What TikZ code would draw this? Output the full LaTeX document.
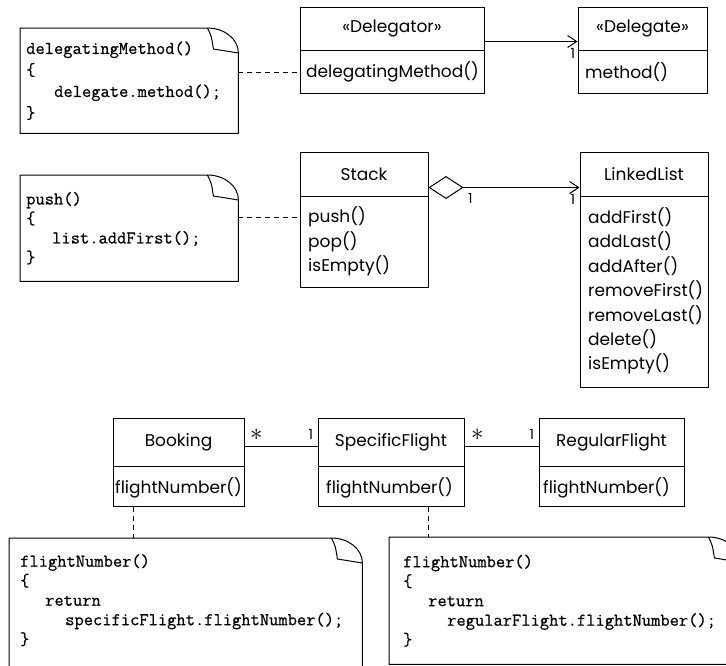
\documentclass[tikz,border=0pt]{standalone}
\usepackage{fontspec}
\setmainfont{Poppins}
\newfontfamily\codefont[FakeBold=0.6]{Latin Modern Mono}
\usetikzlibrary{arrows.meta,positioning}

\tikzset{
  classhead/.style={draw, line width=1pt, inner sep=0pt, font=\fontsize{17}{20}\selectfont},
  classbody/.style={draw, line width=1pt, inner sep=0pt},
  method/.style={anchor=west, inner sep=0pt, font=\fontsize{17}{20}\selectfont},
  mult/.style={inner sep=1pt, font=\fontsize{14}{14}\selectfont},
  notebox/.style={anchor=north west, inner ysep=0pt, align=left, font=\fontsize{18}{19.5}\selectfont\codefont},
  notefr/.style={line width=1pt, line join=round},
  notelink/.style={line width=1pt, dash pattern=on 5pt off 4pt},
  assoc/.style={line width=1pt},
}

\begin{document}
\begin{tikzpicture}[x=1pt, y=-1pt]
  \useasboundingbox (0,0) rectangle (726,665);
  \clip (0,0) rectangle (726,665);
  % Delegator -> Delegate
  \node[classhead, minimum width=184pt, minimum height=43pt] (delT) at (392,28.5) {«Delegator»};
  \node[classbody, minimum width=184pt, minimum height=43pt, below=-1pt of delT] (delB) {};
  \node[method] (delM) at (306,72) {delegatingMethod()};
  \node[classhead, minimum width=129pt, minimum height=43pt] (dlgT) at (642.5,28.5) {«Delegate»};
  \node[classbody, minimum width=129pt, minimum height=43pt, below=-1pt of dlgT] (dlgB) {};
  \node[method] (dlgM) at (585,72) {method()};
  \draw[assoc, -{Straight Barb[length=9pt, width=12pt]}] ([yshift=9pt]delT.south east) -- ([yshift=9pt]dlgT.south west)
    node[mult, at end, below left=5pt and 1pt] {1};

  % Stack <>-> LinkedList
  \node[classhead, minimum width=128pt, minimum height=44pt] (stkT) at (364,174) {Stack};
  \node[classbody, minimum width=128pt, minimum height=91pt, below=-1pt of stkT] (stkB) {};
  \foreach \m [count=\i] in {push(),pop(),isEmpty()}
    \node[method] (stk\i) at (308,{192.5+24.5*\i}) {\m};
  \node[classhead, minimum width=128pt, minimum height=44pt] (llT) at (644,174) {LinkedList};
  \node[classbody, minimum width=128pt, minimum height=191pt, below=-1pt of llT] (llB) {};
  \foreach \m [count=\i] in {addFirst(),addLast(),addAfter(),removeFirst(),removeLast(),delete(),isEmpty()}
    \node[method] (ll\i) at (588,{192.5+24.5*\i}) {\m};
  \draw[assoc, {Diamond[open, length=35pt, width=23pt]}-{Straight Barb[length=9pt, width=12pt]}]
    ([yshift=9pt]stkT.south east) -- ([yshift=9pt]llT.south west)
    node[mult, at start, below right=4pt and 38pt] {1}
    node[mult, at end, below left=5pt and 3pt] {1};

  % Booking -- SpecificFlight -- RegularFlight
  \node[classhead, minimum width=131pt, minimum height=48pt] (bkT) at (178.5,442) {Booking};
  \node[classbody, minimum width=131pt, minimum height=40pt, below=-1pt of bkT] (bkB) {};
  \node[method] (bkM) at (115,488) {flightNumber()};
  \node[classhead, minimum width=146pt, minimum height=48pt] (sfT) at (391,442) {SpecificFlight};
  \node[classbody, minimum width=146pt, minimum height=40pt, below=-1pt of sfT] (sfB) {};
  \node[method] (sfM) at (326,488) {flightNumber()};
  \node[classhead, minimum width=145pt, minimum height=48pt] (rfT) at (611.5,442) {RegularFlight};
  \node[classbody, minimum width=145pt, minimum height=40pt, below=-1pt of rfT] (rfB) {};
  \node[method] (rfM) at (543,488) {flightNumber()};
  \draw[assoc] ([yshift=20pt]bkT.south east) -- ([yshift=20pt]sfT.south west)
    node[mult, at start, above right=5pt and 4pt, font=\fontsize{25}{25}\selectfont] {$\ast$}
    node[mult, at end, above left=6pt and 3pt] {1};
  \draw[assoc] ([yshift=20pt]sfT.south east) -- ([yshift=20pt]rfT.south west)
    node[mult, at start, above right=5pt and 5pt, font=\fontsize{25}{25}\selectfont] {$\ast$}
    node[mult, at end, above left=6pt and 3pt] {1};

  % Notes
  \node[notebox, text width=206pt, inner xsep=6pt, minimum height=105pt,
        font=\fontsize{18}{21.5}\selectfont\codefont] (n1) at (20,28)
    {delegatingMethod()\\\{\\\hspace*{28pt}delegate.method();\\\}};
  \node[notebox, text width=206pt, inner xsep=6pt, minimum height=106pt] (n2) at (20,175)
    {push()\\\{\\\hspace*{26pt}list.addFirst();\\\}};
  \node[notebox, text width=331pt, inner xsep=11pt, minimum height=124pt] (n3) at (9,538)
    {flightNumber()\\\{\\\hspace*{25pt}return\\\hspace*{45pt}specificFlight.flightNumber();\\\}};
  \node[notebox, text width=322pt, inner xsep=14pt, minimum height=127pt] (n4) at (389,537)
    {flightNumber()\\\{\\\hspace*{25pt}return\\\hspace*{44pt}regularFlight.flightNumber();\\\}};
  \foreach \n/\d in {n1/0,n2/0,n3/20,n4/0}{
    \draw[notefr] ([yshift=-\d pt]\n.south west) -- (\n.north west) -- ([xshift=-31pt]\n.north east)
      .. controls ([xshift=-14pt]\n.north east) and ([yshift=-11pt]\n.north east) .. ([yshift=-25pt]\n.north east)
      -- ([yshift=-\d pt]\n.south east) -- cycle;
    \draw[notefr] ([xshift=-31pt]\n.north east) .. controls ([xshift=-27pt,yshift=-8pt]\n.north east)
      .. ([xshift=-25pt,yshift=-21pt]\n.north east) -- ([yshift=-25pt]\n.north east);
  }

  % Note links
  \draw[notelink] (delM.west -| n1.east) -- (delM.west -| delB.west);
  \draw[notelink] (stk1.west -| n2.east) -- (stk1.west -| stkB.west);
  \coordinate (bkc) at ([xshift=21pt]bkB.south west);
  \coordinate (sfc) at ([xshift=111pt]sfB.south west);
  \draw[notelink] (bkc) -- (bkc |- n3.north);
  \draw[notelink] (sfc) -- (sfc |- n4.north);
\end{tikzpicture}
\end{document}
